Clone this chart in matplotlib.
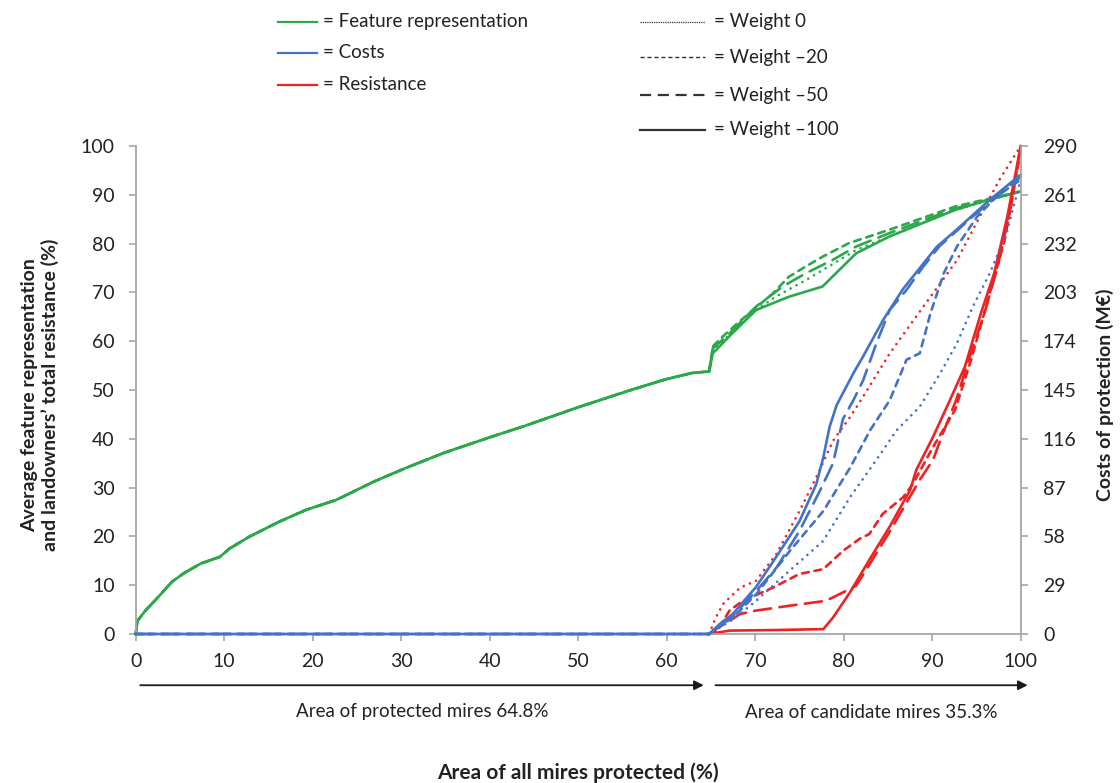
import matplotlib
matplotlib.use("Agg")
import matplotlib.pyplot as plt
from matplotlib.lines import Line2D

plt.rcParams['font.family'] = ['Lato', 'DejaVu Sans']

# Protected mires part (shared by all weights): feature representation (%)
x_base = [0, 0.2, 1.1, 2.2, 4.1, 5.4, 7.3, 9.5, 10.6, 12.8, 16.2, 19.2, 22.7, 27, 30.5,
          34.8, 40, 43.9, 49.9, 55.6, 59.9, 62.9, 64.8]
feat_base = [0, 2.7, 4.8, 6.9, 10.7, 12.4, 14.4, 15.8, 17.5, 19.9, 23, 25.4, 27.5, 31.3, 34,
             37.1, 40.3, 42.6, 46.4, 49.8, 52.2, 53.5, 53.8]

# Candidate mires part, feature representation (%) per weight
feat_x_w0 = [64.8, 65.2, 67.1, 70.1, 72.3, 75.7, 78.3, 81.4, 85.1, 92.6, 100]
feat_w0 = [53.8, 58.2, 61.3, 66.4, 69.1, 72.5, 75.3, 78.7, 81.4, 86.9, 90.7]
feat_x_w20 = [64.8, 65.2, 66.3, 68.2, 72, 73.8, 75.7, 77.6, 80.6, 85.1, 92.6, 100]
feat_w20 = [53.8, 58.9, 60.9, 64, 69.8, 73.2, 75.3, 77.3, 80.1, 82.8, 87.6, 90.7]
feat_x_w50 = [64.8, 65.2, 67.1, 70.1, 73.1, 75.7, 78.7, 81.4, 85.1, 92.6, 100]
feat_w50 = [53.8, 58.5, 61.6, 67.1, 71.2, 73.9, 76.6, 79.4, 82.1, 87.2, 90.7]
feat_x_w100 = [64.8, 65.2, 66.7, 67.4, 70.1, 73.8, 77.6, 79.5, 81.4, 85.1, 88.9, 92.6, 96.4, 100]
feat_w100 = [53.8, 57.5, 60.3, 61.6, 66.4, 69.1, 71.2, 74.6, 78, 81.4, 84.2, 86.9, 89, 90.7]

# Costs of protection (M€) per weight
cost_x_w0 = [0, 64.8, 67.5, 70.1, 73.9, 77.7, 80.7, 83.7, 86, 88.6, 90.9, 92.8, 94.6, 96.5, 98.4, 100]
cost_w0 = [0, 0, 8.7, 19.7, 37.7, 55.4, 81.2, 103.5, 121.2, 135.1, 154.9, 172.8, 194.6, 214.3, 238.1, 270]
cost_x_w20 = [0, 64.8, 67.5, 70.1, 73.9, 77.7, 80.7, 83, 85.2, 87.1, 88.6, 89.8, 91.3, 92.8, 95.1, 97.3, 100]
cost_w20 = [0, 0, 10, 23.5, 49.3, 73.1, 98.6, 121.2, 138.9, 163, 166.8, 190.5, 214.3, 230.3, 248.2, 260.1, 270]
cost_x_w50 = [0, 64.8, 67.5, 70.1, 72.4, 75, 77.3, 78.8, 79.9, 81.1, 82.2, 83.7, 85.2, 87.1, 89, 90.8, 94.6, 100]
cost_w50 = [0, 0, 11, 25.5, 39.4, 61.2, 85, 101.5, 127.6, 139, 150.8, 172.8, 192.6, 204.5, 218.4, 230.3, 248.2, 271.7]
cost_x_w100 = [0, 64.8, 66, 67.5, 70.1, 72.4, 75, 76.9, 77.7, 78.4, 79.2, 81.1, 82.2, 84.5, 86.7, 90.5, 92.7, 96.5, 100]
cost_w100 = [0, 0, 6, 12, 28, 46, 67, 89, 105, 123, 136, 155, 165, 187, 205, 230, 240, 258, 273]

# Landowners' total resistance (%) per weight (candidate mires only)
res_x_w0 = [64.8, 65.5, 66.4, 68.3, 70.1, 72.4, 75, 76.9, 78.8, 80.7, 81.8, 85.2, 89, 92.8, 95.4, 97.6, 100]
res_w0 = [0, 3.2, 6.2, 9.5, 10.9, 16.4, 25.2, 32.1, 39.6, 44.4, 47.5, 57.5, 67.1, 76.6, 85.6, 93.1, 100]
res_x_w20 = [64.8, 65.7, 67.1, 68.6, 72, 75, 77.7, 79.9, 81.8, 82.9, 84.4, 86.7, 87.8, 90, 92.6, 94.4, 96.3, 98.2, 100]
res_w20 = [0, 0.7, 4.8, 6.8, 9.5, 12.3, 13.3, 17, 19.5, 20.5, 24.6, 28, 30.7, 38, 46, 56.2, 68.5, 80.8, 99]
res_x_w50 = [64.8, 65.3, 67.1, 68.3, 70.1, 73.9, 78, 79.9, 81.4, 83, 85.2, 87.5, 88.6, 90.1, 91.2,
             92.7, 94, 95.9, 97.4, 98.9, 100]
res_w50 = [0, 0.7, 2.7, 4.1, 4.8, 5.8, 6.8, 8.5, 9.9, 14.5, 21, 28.2, 31.6, 35.7, 41.1,
           47.9, 55.5, 65.7, 75.3, 87.6, 100]
res_x_w100 = [64.8, 67.1, 72, 77.7, 78.8, 80.7, 82.9, 85.2, 87.5, 88.2, 90.1, 92, 93.7, 95.5, 97, 98.5, 100]
res_w100 = [0, 0.7, 0.8, 1, 3.4, 8.5, 15.2, 22, 29.5, 33.6, 40.4, 47.9, 54.8, 65.7, 73.9, 85.6, 100]

x_ticks = [0, 10, 20, 30, 40, 50, 60, 70, 80, 90, 100]
y_ticks = [0, 10, 20, 30, 40, 50, 60, 70, 80, 90, 100]
cost_ticks = [0, 29, 58, 87, 116, 145, 174, 203, 232, 261, 290]

green = '#2BA84A'
blue = '#4472C4'
red = '#EE2222'
grey = '#A6A6A6'
styles = {'w0': (0, (0.05, 2.5)), 'w20': (0, (2.6, 2.2)), 'w50': (0, (6.5, 3.2)), 'w100': '-'}
lw = 1.9

fig = plt.figure(figsize=(11.2, 7.83), dpi=100)
ax = fig.add_axes([135.7 / 1120, 1 - 634 / 783, (1020.7 - 135.7) / 1120, (634 - 146) / 783])
ax2 = ax.twinx()

# feature representation (green)
for key, fx_, fy_ in [('w0', feat_x_w0, feat_w0), ('w20', feat_x_w20, feat_w20),
                      ('w50', feat_x_w50, feat_w50), ('w100', feat_x_w100, feat_w100)]:
    ax.plot(x_base + fx_[1:], feat_base + fy_[1:], color=green, lw=lw, ls=styles[key],
            solid_capstyle='round', dash_capstyle='round', clip_on=False)

# resistance (red)
for key, rx, ry in [('w0', res_x_w0, res_w0), ('w20', res_x_w20, res_w20),
                    ('w50', res_x_w50, res_w50), ('w100', res_x_w100, res_w100)]:
    ax.plot(rx, ry, color=red, lw=lw, ls=styles[key], dash_capstyle='round', clip_on=False)

# costs (blue) on the right axis
for key, cx, cy in [('w0', cost_x_w0, cost_w0), ('w20', cost_x_w20, cost_w20),
                    ('w50', cost_x_w50, cost_w50), ('w100', cost_x_w100, cost_w100)]:
    ax2.plot(cx, cy, color=blue, lw=lw, ls=styles[key], dash_capstyle='round', clip_on=False)

ax.set_xlim(0, 100)
ax.set_ylim(0, 100)
ax2.set_ylim(0, 290)
ax.set_xticks(x_ticks)
ax.set_yticks(y_ticks)
ax2.set_yticks(cost_ticks)

for a in (ax, ax2):
    a.spines['top'].set_visible(False)
    for s in ('left', 'right', 'bottom'):
        a.spines[s].set_color(grey)
        a.spines[s].set_linewidth(1.3)
ax.spines['right'].set_visible(False)
ax2.spines['left'].set_visible(False)
ax2.spines['bottom'].set_visible(False)

ax.tick_params(axis='y', direction='out', length=5, width=1.2, color=grey,
               labelsize=14, pad=10, labelcolor='#222222')
ax.tick_params(axis='x', direction='out', length=5, width=1.2, color=grey,
               labelsize=14, pad=9, labelcolor='#222222')
ax2.tick_params(axis='y', direction='out', length=5, width=1.2, color=grey,
                labelsize=14, pad=11, labelcolor='#222222')

# arrows below the x axis
arrow_kw = dict(arrowstyle='-|>', color='#1a1a1a', lw=1.3, mutation_scale=14)
ax.annotate('', xy=(64.5, -10.5), xytext=(0.2, -10.5), xycoords='data',
            arrowprops=arrow_kw, annotation_clip=False)
ax.annotate('', xy=(101.1, -10.5), xytext=(65.2, -10.5), xycoords='data',
            arrowprops=arrow_kw, annotation_clip=False)

fig.text(422 / 1120, 1 - 712 / 783, 'Area of protected mires 64.8%', ha='center', va='center',
         fontsize=13.5, color='#222222')
fig.text(871 / 1120, 1 - 712 / 783, 'Area of candidate mires 35.3%', ha='center', va='center',
         fontsize=13.5, color='#222222')
fig.text(578 / 1120, 1 - 773 / 783, 'Area of all mires protected (%)', ha='center', va='center',
         fontsize=15, fontweight='bold', color='#222222')

fig.text(40 / 1120, 1 - 395 / 783,
         'Average feature representation\nand landowners\u2019 total resistance (%)',
         ha='center', va='center', rotation=90, fontsize=14, fontweight='bold',
         color='#222222', linespacing=1.2)
fig.text(1105 / 1120, 1 - 395 / 783, 'Costs of protection (M\u20ac)', ha='center', va='center',
         rotation=90, fontsize=14, fontweight='bold', color='#222222')


# legend drawn by hand at the top
def fx(px):
    return px / 1120


def fy(py):
    return 1 - py / 783


for py, col, lab in [(22, green, '= Feature representation'), (53, blue, '= Costs'),
                     (85, red, '= Resistance')]:
    fig.add_artist(Line2D([fx(278), fx(317)], [fy(py), fy(py)], color=col, lw=1.6))
    fig.text(fx(323), fy(py), lab, ha='left', va='center', fontsize=13.5, color='#222222')

legend_ls = {'w0': (0, (1, 0.8)), 'w20': (0, (3, 2)), 'w50': (0, (5, 3)), 'w100': '-'}
for py, key, lab, w in [(22, 'w0', '= Weight 0', 0.9), (57, 'w20', '= Weight \u201320', 1.0),
                        (95, 'w50', '= Weight \u201350', 1.6), (130, 'w100', '= Weight \u2013100', 1.6)]:
    fig.add_artist(Line2D([fx(640), fx(705)], [fy(py), fy(py)], color='#333333', lw=w,
                          ls=legend_ls[key]))
    fig.text(fx(714), fy(py), lab, ha='left', va='center', fontsize=13.5, color='#222222')

fig.savefig('out.png', dpi=100)
